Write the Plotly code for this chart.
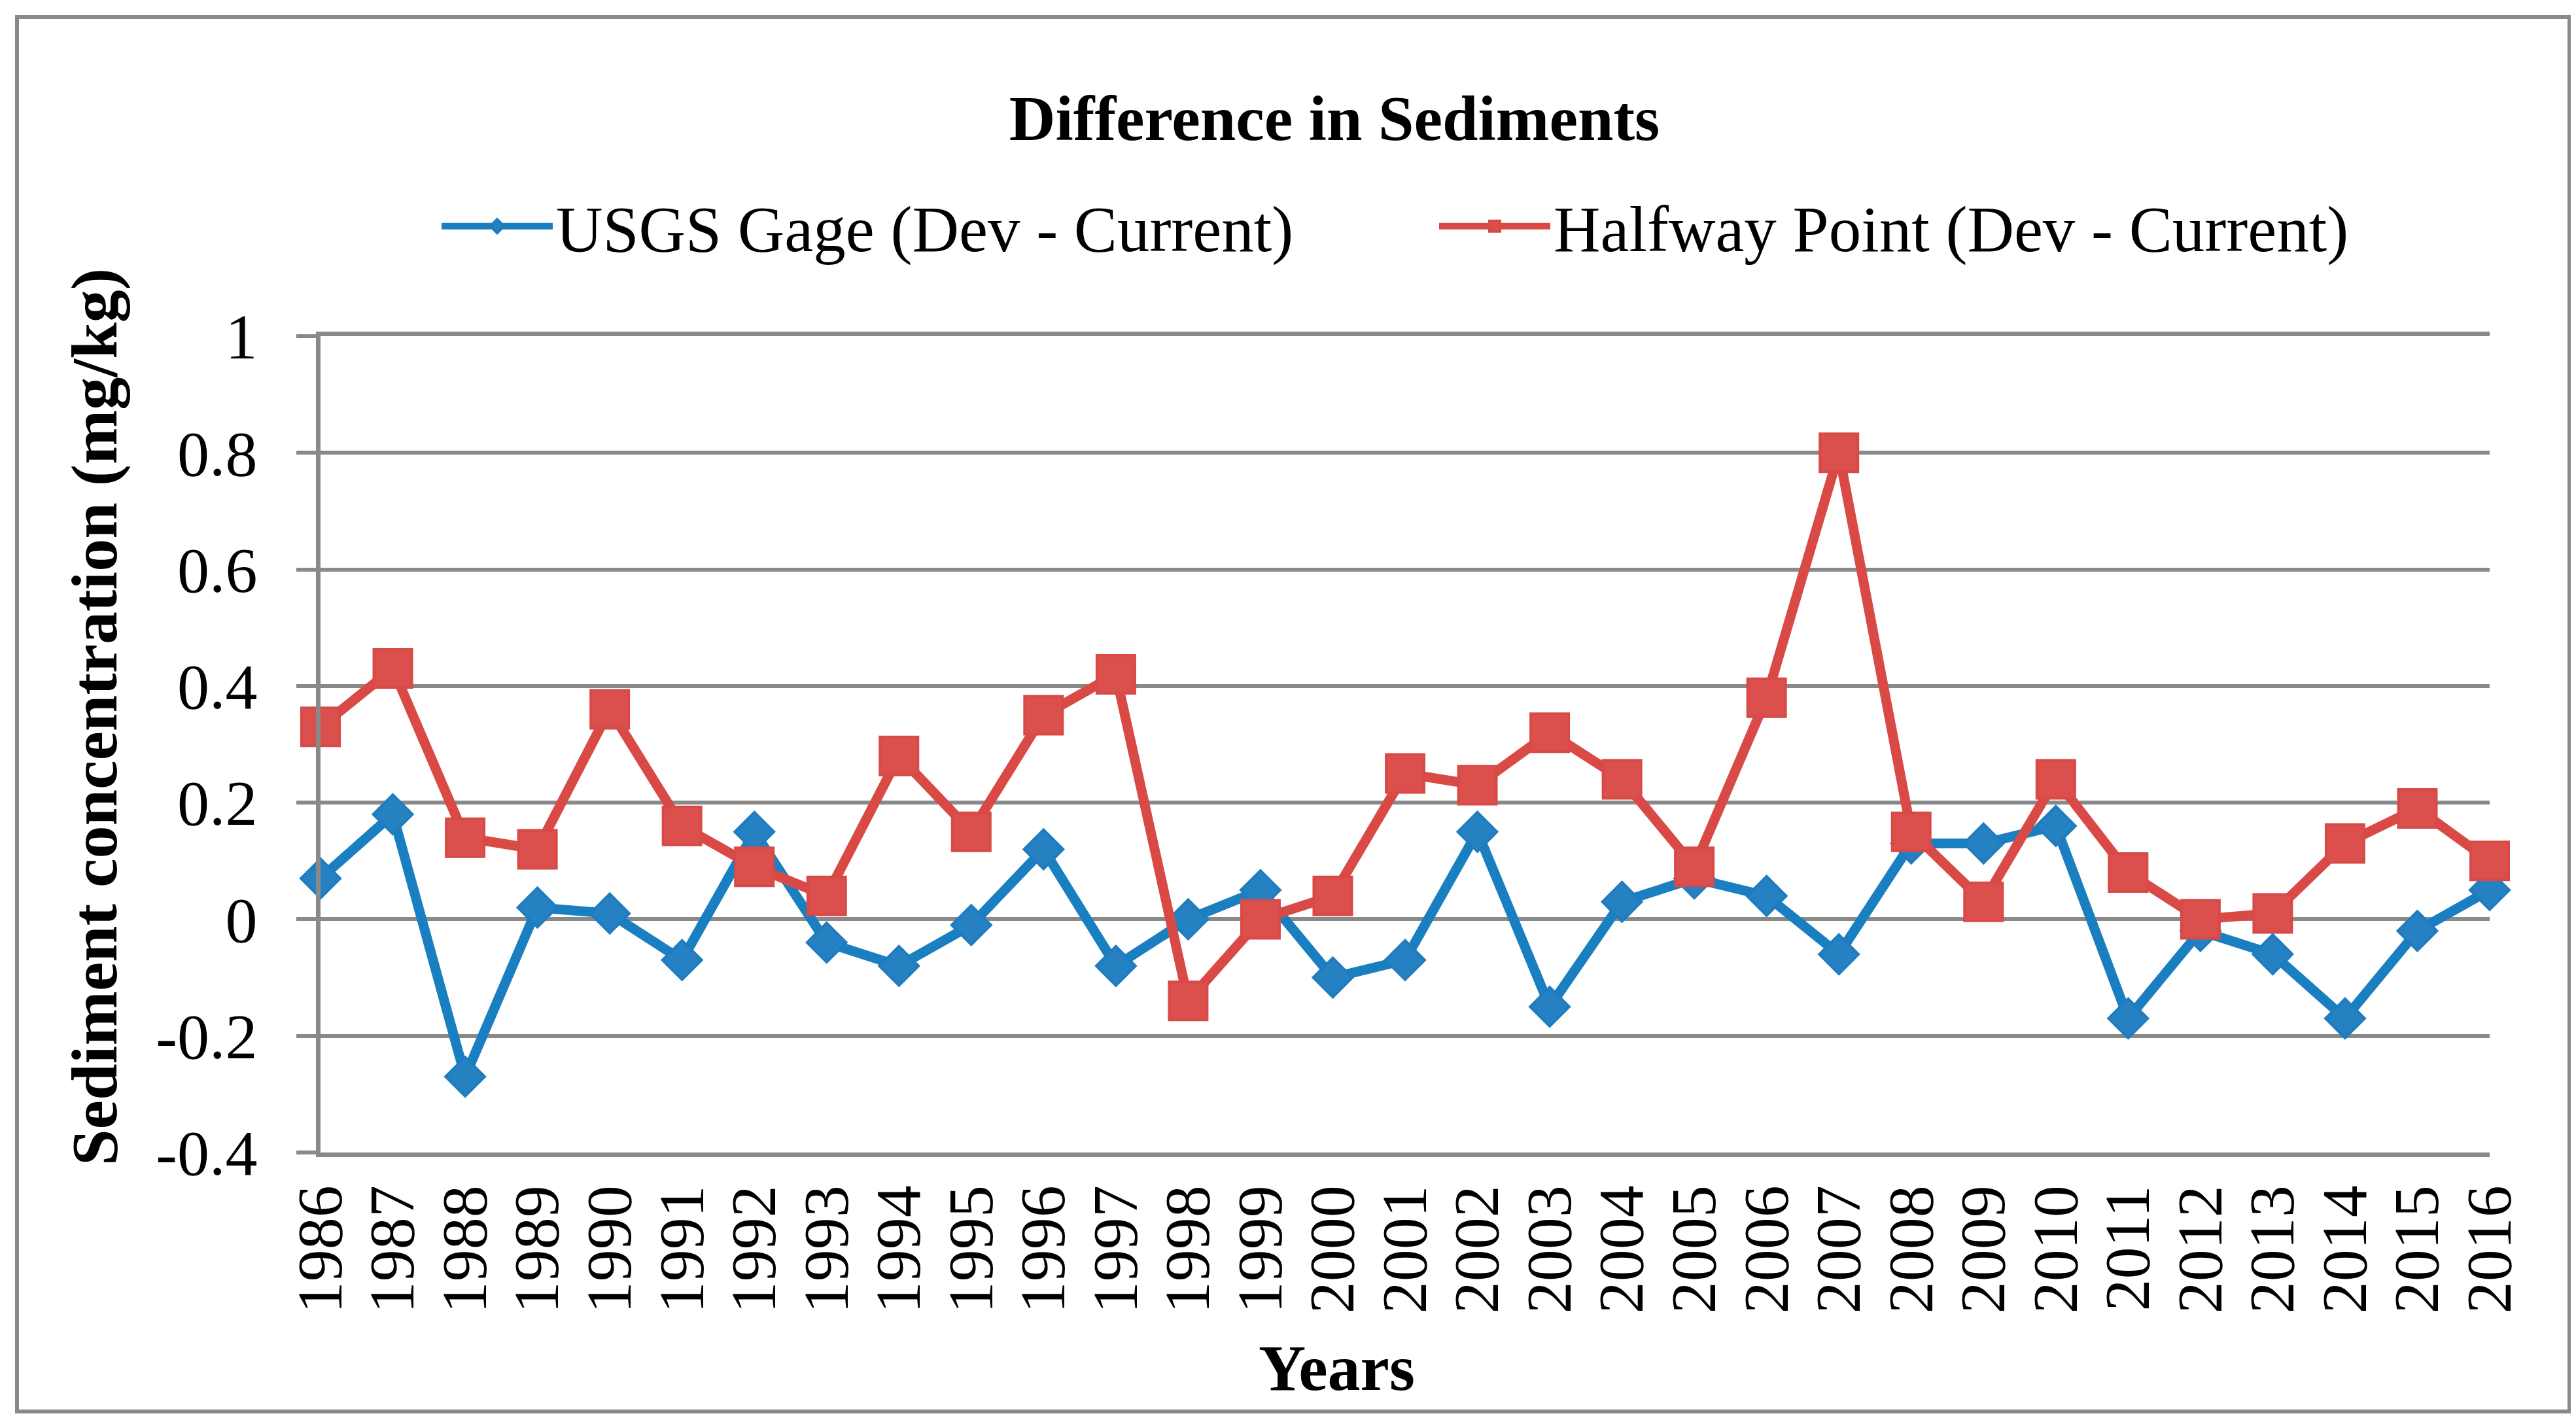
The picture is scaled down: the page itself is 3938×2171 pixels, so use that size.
import plotly.graph_objects as go

years = list(range(1986, 2017))
usgs_gage = [0.07, 0.18, -0.27, 0.02, 0.01, -0.07, 0.15, -0.04, -0.08, -0.01,
             0.12, -0.08, 0.00, 0.05, -0.10, -0.07, 0.15, -0.15, 0.03, 0.07,
             0.04, -0.06, 0.13, 0.13, 0.16, -0.17, -0.02, -0.06, -0.17, -0.02,
             0.05]
halfway_point = [0.33, 0.43, 0.14, 0.12, 0.36, 0.16, 0.09, 0.04, 0.28, 0.15,
                 0.35, 0.42, -0.14, 0.00, 0.04, 0.25, 0.23, 0.32, 0.24, 0.09,
                 0.38, 0.80, 0.15, 0.03, 0.24, 0.08, 0.00, 0.01, 0.13, 0.19,
                 0.10]
y_ticks = [-0.4, -0.2, 0, 0.2, 0.4, 0.6, 0.8, 1]
y_tick_labels = ["-0.4", "-0.2", "0", "0.2", "0.4", "0.6", "0.8", "1"]

W, H = 3938, 2171
L, R, T, B = 482, 140, 506, 417
PW, PH = W - L - R, H - T - B
GREY = "#898989"
FONT = "Liberation Serif"


def px(x):
    return (x - L) / PW


def py(y):
    return (H - B - y) / PH


fig = go.Figure()
fig.add_trace(
    go.Scatter(
        x=years,
        y=usgs_gage,
        name="USGS Gage (Dev - Current)",
        mode="lines+markers",
        line=dict(color="#1a7fc1", width=15),
        marker=dict(symbol="diamond", size=46, color="#2681c2",
                    line=dict(color="#1f7cbf", width=4)),
        cliponaxis=False,
    )
)
fig.add_trace(
    go.Scatter(
        x=years,
        y=halfway_point,
        name="Halfway Point (Dev - Current)",
        mode="lines+markers",
        line=dict(color="#d94a47", width=15),
        marker=dict(symbol="square", size=58, color="#db4f4c",
                    line=dict(color="#d84a47", width=4)),
        cliponaxis=False,
    )
)

fig.update_layout(
    width=W,
    height=H,
    margin=dict(l=L, r=R, t=T, b=B, pad=0),
    paper_bgcolor="white",
    plot_bgcolor="white",
    font=dict(family=FONT, size=98, color="black"),
    title=dict(
        text="<b>Difference in Sediments</b>",
        x=2032 / W, xref="container", xanchor="center",
        y=1 - 172 / H, yref="container", yanchor="middle",
        font=dict(family=FONT, size=98, color="black"),
    ),
    legend=dict(
        orientation="h",
        x=px(662), xanchor="left",
        y=py(338), yanchor="middle",
        font=dict(family=FONT, size=99, color="black"),
        itemwidth=170,
        entrywidth=1340,
        bgcolor="rgba(0,0,0,0)",
    ),
    showlegend=True,
)

fig.update_xaxes(
    range=[years[0], years[-1]],
    tickvals=years,
    ticktext=[str(y) for y in years],
    tickangle=-90,
    ticks="",
    ticklabelstandoff=4,
    tickfont=dict(family=FONT, size=98, color="black"),
    showgrid=False,
    zeroline=False,
    showline=True,
    mirror=True,
    linecolor=GREY,
    linewidth=7,
)
fig.update_yaxes(
    range=[-0.4, 1],
    tickvals=y_ticks,
    ticktext=y_tick_labels,
    ticks="outside",
    ticklen=30,
    tickwidth=6,
    tickcolor=GREY,
    ticklabelstandoff=40,
    tickfont=dict(family=FONT, size=98, color="black"),
    showgrid=True,
    gridcolor=GREY,
    gridwidth=6,
    zeroline=False,
    showline=True,
    linecolor=GREY,
    linewidth=7,
)

# axis crossing at zero with tick marks pointing down
fig.update_layout(
    xaxis2=dict(
        overlaying="x",
        matches="x",
        anchor="free",
        position=0.4 / 1.4,
        range=[years[0], years[-1]],
        tickvals=years,
        ticks="outside",
        ticklen=30,
        tickwidth=6,
        tickcolor=GREY,
        showticklabels=False,
        showgrid=False,
        zeroline=False,
        showline=True,
        linecolor=GREY,
        linewidth=7,
    )
)

# axis titles
fig.add_annotation(
    text="<b>Sediment concentration (mg/kg)</b>",
    x=px(136), y=py(1088), xref="paper", yref="paper",
    textangle=-90, showarrow=False, xanchor="center", yanchor="middle",
    font=dict(family=FONT, size=100, color="black"),
)
fig.add_annotation(
    text="<b>Years</b>",
    x=px(2035), y=py(2083), xref="paper", yref="paper",
    showarrow=False, xanchor="center", yanchor="middle",
    font=dict(family=FONT, size=100, color="black"),
)

# chart area border
fig.add_shape(
    type="rect", xref="paper", yref="paper",
    x0=px(18), x1=px(3920), y0=py(2150), y1=py(18),
    line=dict(color=GREY, width=6), fillcolor="rgba(0,0,0,0)", layer="below",
)

fig.write_html("out.html")
